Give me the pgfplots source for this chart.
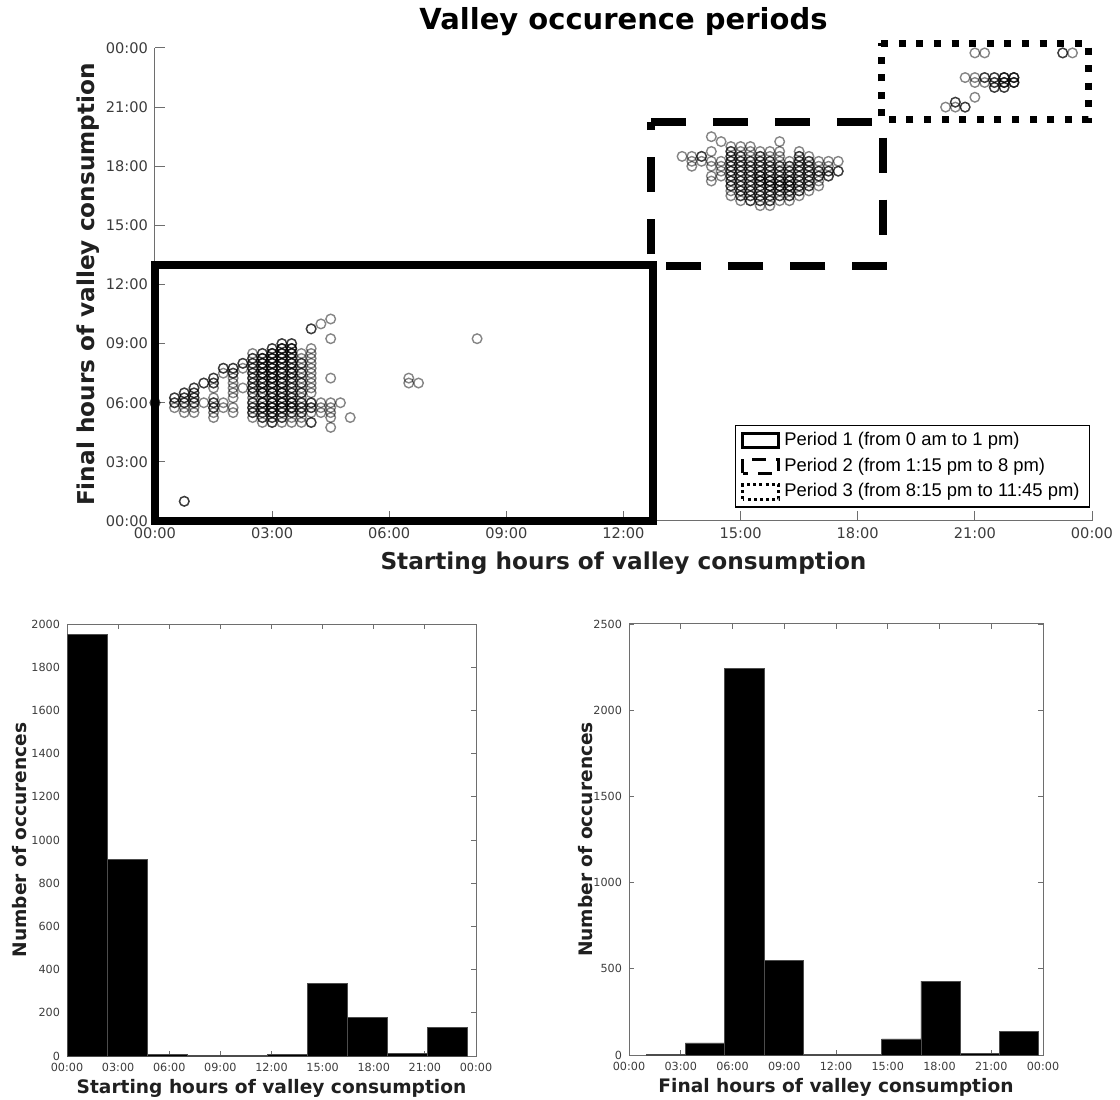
\documentclass[border=0pt]{standalone}
\usepackage{pgfplots}
\pgfplotsset{compat=1.18}
\usepackage{fontspec}
\setmainfont{DejaVu Sans}
\newfontfamily\legendfont{Liberation Sans}

\definecolor{axisgray}{HTML}{6E6E6E}
\definecolor{ticktext}{HTML}{3C3C3C}
\definecolor{labeltext}{HTML}{202020}

\pgfplotsset{
  valley points/.style={only marks, mark=o, mark size=2.4pt,
    mark options={draw=black, draw opacity=0.48, line width=0.7pt}},
  valley dark/.style={only marks, mark=o, mark size=2.4pt,
    mark options={draw=black, draw opacity=0.55, line width=0.7pt}},
  rect legend/.style={legend image code/.code={%
    \draw[##1] (0pt,-3.6pt) rectangle (18pt,3.6pt);}},
  hist axis/.style={
    scale only axis,
    xmin=0, xmax=24, ymin=0,
    xtick={0,3,...,24},
    xticklabels={00:00,03:00,06:00,09:00,12:00,15:00,18:00,21:00,00:00},
    axis line style={axisgray, line width=0.5pt},
    tick style={axisgray, line width=0.4pt},
    major tick length=2.5pt,
    tick align=inside,
    ticklabel style={font=\fontsize{5.6}{6}\selectfont, text=ticktext},
    /pgf/number format/assume math mode=true,
    /pgf/number format/1000 sep={},
    scaled y ticks=false,
    label style={font=\bfseries\fontsize{9.3}{10}\selectfont, text=labeltext},
    ylabel={Number of occurences},
  },
}

\begin{document}
\begin{tikzpicture}
\path[use as bounding box] (0pt,0pt) rectangle (560pt,549.5pt);

% ---------- scatter of start vs. end of valley periods ----------
\begin{axis}[
  at={(77.5pt,289pt)}, anchor=south west,
  width=468.5pt, height=236.5pt, scale only axis,
  xmin=0, xmax=24, ymin=0, ymax=24,
  axis x line=bottom, axis y line=left,
  axis line style={axisgray, line width=0.5pt, -},
  xtick={0,3,...,24}, ytick={0,3,...,24},
  xticklabels={00:00,03:00,06:00,09:00,12:00,15:00,18:00,21:00,00:00},
  yticklabels={00:00,03:00,06:00,09:00,12:00,15:00,18:00,21:00,00:00},
  tick align=inside, major tick length=5pt,
  tick style={axisgray, line width=0.5pt},
  ticklabel style={font=\fontsize{7.3}{8}\selectfont, text=ticktext},
  clip=false,
  title={Valley occurence periods},
  every axis title/.style={font=\bfseries\fontsize{14.5}{16}\selectfont,
    at={(axis description cs:0.5,1.055)}, anchor=center},
  xlabel={Starting hours of valley consumption},
  ylabel={Final hours of valley consumption},
  label style={font=\bfseries\fontsize{11.6}{13}\selectfont, text=labeltext},
  xlabel style={at={(axis description cs:0.5,-0.09)}, anchor=center},
  ylabel style={at={(axis description cs:-0.0715,0.5)}, anchor=center},
  legend style={at={(axis description cs:0.998,0.203)}, anchor=north east,
    draw=black, line width=0.6pt, fill=white,
    font=\legendfont\fontsize{9.2}{11}\selectfont,
    inner xsep=3pt, inner ysep=1.5pt, row sep=0.6pt},
  legend cell align=left,
]
% period 1
\addplot[valley points, forget plot] coordinates {
(0,6)
(0.5,6.25) (0.5,6) (0.5,5.75)
(0.75,6.5) (0.75,6.25) (0.75,6) (0.75,5.75) (0.75,5.5) (0.75,1)
(1,6.75) (1,6.5) (1,6.25) (1,6) (1,5.75) (1,5.5)
(1.25,7) (1.25,6)
(1.5,7.25) (1.5,7) (1.5,6.75) (1.5,6.25) (1.5,6) (1.5,5.75) (1.5,5.5) (1.5,5.25)
(1.75,7.75) (1.75,7.5) (1.75,6) (1.75,5.75)
(2,7.75) (2,7.5) (2,7.25) (2,7) (2,6.75) (2,6.5) (2,6.25) (2,5.75) (2,5.5)
(2.25,8) (2.25,7.75) (2.25,6.75)
(2.5,8.5) (2.5,8.25) (2.5,8) (2.5,7.75) (2.5,7.5) (2.5,7.25) (2.5,7) (2.5,6.75) (2.5,6.5) (2.5,6.25) (2.5,6) (2.5,5.75) (2.5,5.5) (2.5,5.25)
(2.75,8.5) (2.75,8.25) (2.75,8) (2.75,7.75) (2.75,7.5) (2.75,7.25) (2.75,7) (2.75,6.75) (2.75,6.5) (2.75,6.25) (2.75,6) (2.75,5.75) (2.75,5.5) (2.75,5.25) (2.75,5)
(3,8.75) (3,8.5) (3,8.25) (3,8) (3,7.75) (3,7.5) (3,7.25) (3,7) (3,6.75) (3,6.5) (3,6.25) (3,6) (3,5.75) (3,5.5) (3,5.25) (3,5)
(3.25,9) (3.25,8.75) (3.25,8.5) (3.25,8.25) (3.25,8) (3.25,7.75) (3.25,7.5) (3.25,7.25) (3.25,7) (3.25,6.75) (3.25,6.5) (3.25,6.25) (3.25,6) (3.25,5.75) (3.25,5.5) (3.25,5.25) (3.25,5)
(3.5,9) (3.5,8.75) (3.5,8.5) (3.5,8.25) (3.5,8) (3.5,7.75) (3.5,7.5) (3.5,7.25) (3.5,7) (3.5,6.75) (3.5,6.5) (3.5,6.25) (3.5,6) (3.5,5.75) (3.5,5.5) (3.5,5.25) (3.5,5)
(3.75,8.5) (3.75,8.25) (3.75,8) (3.75,7.75) (3.75,7.5) (3.75,7.25) (3.75,7) (3.75,6.75) (3.75,6.5) (3.75,6.25) (3.75,6) (3.75,5.75) (3.75,5.5) (3.75,5.25) (3.75,5)
(4,9.75) (4,8.75) (4,8.5) (4,8.25) (4,8) (4,7.75) (4,7.5) (4,7.25) (4,7) (4,6.75) (4,6.5) (4,6) (4,5.75) (4,5.5) (4,5)
(4.25,10) (4.25,6) (4.25,5.75) (4.25,5.5)
(4.5,10.25) (4.5,9.25) (4.5,7.25) (4.5,6) (4.5,5.75) (4.5,5.5) (4.5,5.25) (4.5,4.75)
(4.75,6) (5,5.25)
(6.5,7.25) (6.5,7) (6.75,7) (8.25,9.25)
};
% period 2
\addplot[valley points, forget plot] coordinates {
(13.5,18.5)
(13.75,18.5) (13.75,18.25) (13.75,18)
(14,18.5) (14,18.25)
(14.25,19.5) (14.25,18.75) (14.25,18.25) (14.25,18) (14.25,17.5) (14.25,17.25)
(14.5,19.25) (14.5,18.25) (14.5,18) (14.5,17.75) (14.5,17.5)
(14.75,19) (14.75,18.75) (14.75,18.5) (14.75,18.25) (14.75,18) (14.75,17.75) (14.75,17.5) (14.75,17.25) (14.75,17) (14.75,16.75) (14.75,16.5)
(15,19) (15,18.75) (15,18.5) (15,18.25) (15,18) (15,17.75) (15,17.5) (15,17.25) (15,17) (15,16.75) (15,16.5) (15,16.25)
(15.25,19) (15.25,18.75) (15.25,18.5) (15.25,18.25) (15.25,18) (15.25,17.75) (15.25,17.5) (15.25,17.25) (15.25,17) (15.25,16.75) (15.25,16.5) (15.25,16.25)
(15.5,18.75) (15.5,18.5) (15.5,18.25) (15.5,18) (15.5,17.75) (15.5,17.5) (15.5,17.25) (15.5,17) (15.5,16.75) (15.5,16.5) (15.5,16.25) (15.5,16)
(15.75,18.75) (15.75,18.5) (15.75,18.25) (15.75,18) (15.75,17.75) (15.75,17.5) (15.75,17.25) (15.75,17) (15.75,16.75) (15.75,16.5) (15.75,16.25) (15.75,16)
(16,19.25) (16,18.75) (16,18.5) (16,18.25) (16,18) (16,17.75) (16,17.5) (16,17.25) (16,17) (16,16.75) (16,16.5) (16,16.25)
(16.25,18.25) (16.25,18) (16.25,17.75) (16.25,17.5) (16.25,17.25) (16.25,17) (16.25,16.75) (16.25,16.5) (16.25,16.25)
(16.5,18.75) (16.5,18.5) (16.5,18.25) (16.5,18) (16.5,17.75) (16.5,17.5) (16.5,17.25) (16.5,17) (16.5,16.75) (16.5,16.5)
(16.75,18.5) (16.75,18.25) (16.75,18) (16.75,17.75) (16.75,17.5) (16.75,17.25) (16.75,17) (16.75,16.75)
(17,18.25) (17,18) (17,17.75) (17,17.5) (17,17.25) (17,17)
(17.25,18.25) (17.25,18) (17.25,17.75) (17.25,17.5)
(17.5,18.25) (17.5,17.75)
};
% period 3
\addplot[valley points, forget plot] coordinates {
(20.25,21) (20.5,21.25) (20.5,21) (20.75,21) (21,21.5)
(20.75,22.5) (21,22.5) (21,22.25) (21.25,22.5) (21.25,22.25)
(21.5,22.5) (21.5,22.25) (21.5,22) (21.75,22.5) (21.75,22.25) (21.75,22)
(22,22.5) (22,22.25)
(21,23.75) (21.25,23.75) (23.25,23.75) (23.5,23.75)
};
% repeated observations (drawn over the first pass)
\addplot[valley dark, forget plot] coordinates {
(0,6) (0.5,6.25) (0.5,6) (0.75,6.5) (0.75,6.25) (0.75,6) (0.75,1)
(1,6.75) (1,6.5) (1,6.25) (1,6) (1.25,7) (1.5,7.25) (1.5,7) (1.5,6) (1.5,5.75)
(1.75,7.75) (2,7.75) (2,7.5) (2.25,8)
(2.5,8.25) (2.5,8) (2.5,7.75) (2.5,7.5) (2.5,7.25) (2.5,7) (2.5,6.75) (2.5,6.5) (2.5,6) (2.5,5.75) (2.5,5.5)
(2.75,8.5) (2.75,8.25) (2.75,8) (2.75,7.75) (2.75,7.5) (2.75,7.25) (2.75,7) (2.75,6.75) (2.75,6.5) (2.75,6) (2.75,5.75) (2.75,5.5) (2.75,5.25)
(3,8.75) (3,8.5) (3,8.25) (3,8) (3,7.75) (3,7.5) (3,7.25) (3,7) (3,6.75) (3,6.5) (3,6.25) (3,6) (3,5.75) (3,5.5) (3,5.25) (3,5)
(3.25,9) (3.25,8.75) (3.25,8.5) (3.25,8.25) (3.25,8) (3.25,7.75) (3.25,7.5) (3.25,7.25) (3.25,7) (3.25,6.75) (3.25,6.5) (3.25,6.25) (3.25,6) (3.25,5.75) (3.25,5.5) (3.25,5.25)
(3.5,9) (3.5,8.75) (3.5,8.5) (3.5,8.25) (3.5,8) (3.5,7.75) (3.5,7.5) (3.5,7.25) (3.5,7) (3.5,6.75) (3.5,6.5) (3.5,6.25) (3.5,6) (3.5,5.75) (3.5,5.5)
(3.75,8) (3.75,7.5) (3.75,7) (3.75,6.5) (3.75,6) (3.75,5.75) (3.75,5.5)
(4,9.75) (4,6) (4,5.75) (4,5)
(2.75,8.25) (2.75,8) (2.75,7.75) (2.75,7.5) (2.75,7) (2.75,6.5) (2.75,6) (2.75,5.75)
(3,8.5) (3,8.25) (3,8) (3,7.75) (3,7.5) (3,7.25) (3,7) (3,6.5) (3,6) (3,5.75) (3,5.5)
(3.25,8.75) (3.25,8.5) (3.25,8.25) (3.25,8) (3.25,7.5) (3.25,7) (3.25,6.5) (3.25,6) (3.25,5.75)
(3.5,8.75) (3.5,8.5) (3.5,8) (3.5,7.5) (3.5,6) (3.5,5.75)
(14,18.5)
(14.75,18.75) (14.75,18.5) (14.75,18.25) (14.75,18) (14.75,17.75) (14.75,17.5) (14.75,17.25) (14.75,17)
(15,18.5) (15,18.25) (15,18) (15,17.75) (15,17.5) (15,17.25) (15,17) (15,16.75) (15,16.5)
(15.25,18.25) (15.25,18) (15.25,17.75) (15.25,17.5) (15.25,17.25) (15.25,17) (15.25,16.75) (15.25,16.5) (15.25,16.25)
(15.5,18.5) (15.5,18.25) (15.5,18) (15.5,17.75) (15.5,17.5) (15.5,17.25) (15.5,17) (15.5,16.75) (15.5,16.5) (15.5,16.25)
(15.75,18.25) (15.75,18) (15.75,17.75) (15.75,17.5) (15.75,17.25) (15.75,17) (15.75,16.75) (15.75,16.5) (15.75,16.25)
(16,18) (16,17.75) (16,17.5) (16,17.25) (16,17) (16,16.75) (16,16.5)
(16.25,18) (16.25,17.75) (16.25,17.5) (16.25,17.25) (16.25,17) (16.25,16.75) (16.25,16.5)
(16.5,18.5) (16.5,18.25) (16.5,18) (16.5,17.75) (16.5,17.5) (16.5,17.25) (16.5,17) (16.5,16.75)
(16.75,18.25) (16.75,18) (16.75,17.75) (16.75,17.5) (16.75,17.25) (16.75,17)
(17,17.75) (17,17.5) (17.25,17.75) (17.25,17.5) (17.5,17.75)
(15.5,17.5) (15.5,17.25) (15.75,17.25) (15.75,17) (16,17.25) (16,17) (16.25,17.25) (16.25,17)
(20.5,21.25) (20.75,21) (21.25,22.5) (21.5,22.5) (21.5,22.25) (21.5,22)
(21.75,22.5) (21.75,22.25) (21.75,22) (22,22.5) (22,22.25) (23.25,23.75)
(21.75,22.5) (21.75,22.25) (22,22.5) (22,22.25)
};
% period frames
\addplot[black, line width=4pt, line join=miter, forget plot]
  coordinates {(0,13) (12.75,13) (12.75,0) (0,0)} -- cycle;
\addplot[black, line width=4pt, line cap=butt, dash pattern=on 17.5pt off 13.5pt, forget plot]
  coordinates {(12.7,20.25) (18.65,20.25) (18.65,12.95) (12.7,12.95)} -- cycle;
\addplot[black, line width=3.5pt, line cap=butt, dash pattern=on 3.5pt off 5.3pt, forget plot]
  coordinates {(18.6,24.24) (23.9,24.24) (23.9,20.38) (18.6,20.38)} -- cycle;
% legend
\addlegendimage{rect legend, black, line width=1.5pt}
\addlegendentry{Period 1 (from 0 am to 1 pm)}
\addlegendimage{rect legend, black, line width=1.5pt, dash pattern=on 7pt off 5pt}
\addlegendentry{Period 2 (from 1:15 pm to 8 pm)}
\addlegendimage{rect legend, black, line width=1.5pt, dash pattern=on 1.5pt off 1.6pt}
\addlegendentry{Period 3 (from 8:15 pm to 11:45 pm)}
\end{axis}

% ---------- histogram of starting hours ----------
\begin{axis}[
  hist axis,
  at={(33.5pt,21.5pt)}, anchor=south west,
  width=204.5pt, height=216pt,
  ymax=2000, ytick={0,200,...,2000},
  xlabel={Starting hours of valley consumption},
  xlabel style={at={(axis description cs:0.5,-0.074)}, anchor=center},
  ylabel style={at={(axis description cs:-0.115,0.5)}, anchor=center},
]
\addplot[ybar interval, fill=black, draw=black!70, line width=0.4pt] coordinates {
(0,1950) (2.35,910) (4.7,6) (7.05,2) (9.4,2) (11.75,8) (14.1,337) (16.45,180) (18.8,10) (21.15,132) (23.5,132)
};
\end{axis}

% ---------- histogram of final hours ----------
\begin{axis}[
  hist axis,
  at={(314.5pt,22pt)}, anchor=south west,
  width=207pt, height=215.5pt,
  ymax=2500, ytick={0,500,...,2500},
  xlabel={Final hours of valley consumption},
  xlabel style={at={(axis description cs:0.5,-0.076)}, anchor=center},
  ylabel style={at={(axis description cs:-0.106,0.5)}, anchor=center},
]
\addplot[ybar interval, fill=black, draw=black!70, line width=0.4pt] coordinates {
(1,5) (3.275,70) (5.55,2240) (7.825,547) (10.1,2) (12.375,2) (14.65,93) (16.925,428) (19.2,8) (21.475,136) (23.75,136)
};
\end{axis}
\end{tikzpicture}
\end{document}
